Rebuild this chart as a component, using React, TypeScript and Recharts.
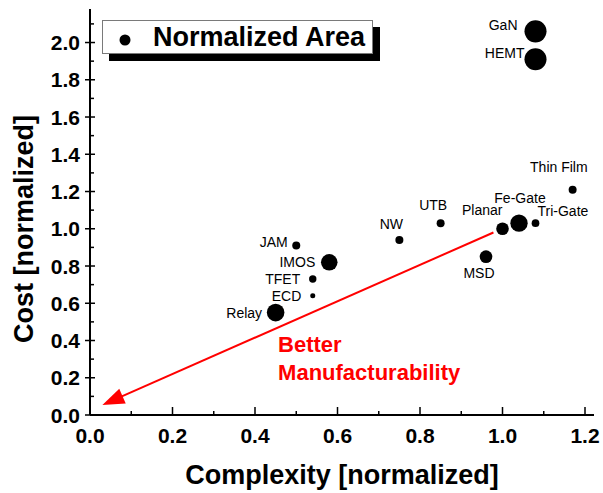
import React from 'react';
import {
  ScatterChart,
  Scatter,
  XAxis,
  YAxis,
  ZAxis,
  ReferenceLine,
  ReferenceDot,
  Legend,
} from 'recharts';

// ---- data ----
const devices = ['GaN', 'HEMT', 'Thin Film', 'Tri-Gate', 'Fe-Gate', 'Planar', 'UTB', 'NW', 'MSD', 'JAM', 'IMOS', 'TFET', 'ECD', 'Relay'];
const complexity = [1.08, 1.08, 1.17, 1.08, 1.04, 1.0, 0.85, 0.75, 0.96, 0.5, 0.58, 0.54, 0.54, 0.45];
const cost = [2.06, 1.91, 1.21, 1.03, 1.03, 1.0, 1.03, 0.94, 0.85, 0.91, 0.82, 0.73, 0.64, 0.55];
const normalizedArea = [7.6, 7.6, 1.0, 0.92, 4.7, 2.5, 1.0, 1.0, 2.5, 1.0, 4.3, 0.86, 0.39, 4.85];

const xTicks = [0, 0.1, 0.2, 0.3, 0.4, 0.5, 0.6, 0.7, 0.8, 0.9, 1.0, 1.1, 1.2];
const yTicks = [0, 0.1, 0.2, 0.3, 0.4, 0.5, 0.6, 0.7, 0.8, 0.9, 1.0, 1.1, 1.2, 1.3, 1.4, 1.5, 1.6, 1.7, 1.8, 1.9, 2.0, 2.1];
const xDomain = [0, 1.2218];
const yDomain = [0, 2.18];

// direction of better manufacturability (from -> to)
const arrowFrom = { x: 0.978, y: 0.98 };
const arrowTo = { x: 0.03, y: 0.054 };
const arrowText = ['Better', 'Manufacturability'];
const arrowTextAt = { x: 0.456, y: 0.34 };

const points = devices.map((name, i) => ({
  name,
  complexity: complexity[i],
  cost: cost[i],
  area: normalizedArea[i],
}));

// ---- styling ----
const FONT = '"Liberation Sans", Arial, Helvetica, sans-serif';
const AXIS_STROKE = { stroke: '#000', strokeWidth: 2 };
const RED = '#ff0000';

// where each device name sits relative to its marker
const labelPlacement: Record<string, { dx: number; dy: number; anchor: 'start' | 'middle' | 'end' }> = {
  GaN: { dx: -18, dy: -1, anchor: 'end' },
  HEMT: { dx: -11, dy: -1, anchor: 'end' },
  'Thin Film': { dx: 15, dy: -17.5, anchor: 'end' },
  'Tri-Gate': { dx: 2, dy: -7.5, anchor: 'start' },
  'Fe-Gate': { dx: 1, dy: -20, anchor: 'middle' },
  Planar: { dx: 0, dy: -13.5, anchor: 'end' },
  UTB: { dx: -7.5, dy: -13.5, anchor: 'middle' },
  NW: { dx: -8, dy: -11, anchor: 'middle' },
  MSD: { dx: -7, dy: 21, anchor: 'middle' },
  JAM: { dx: -8.5, dy: 1, anchor: 'end' },
  IMOS: { dx: -14, dy: 5, anchor: 'end' },
  TFET: { dx: -12.5, dy: 5, anchor: 'end' },
  ECD: { dx: -11.5, dy: 5, anchor: 'end' },
  Relay: { dx: -13.5, dy: 5, anchor: 'end' },
};

const isMajor = (v: number) => Math.round(v * 10) % 2 === 0;

const BottomTick = (props: any) => {
  const { x, y, payload } = props;
  const major = isMajor(payload.value);
  return (
    <g>
      <line x1={x} x2={x} y1={y} y2={y - (major ? 8 : 4)} stroke="#000" strokeWidth={1.5} />
      {major && (
        <text x={x} y={y + 28} textAnchor="middle" fontSize={21} fontWeight="bold" fontFamily={FONT} fill="#000">
          {payload.value.toFixed(1)}
        </text>
      )}
    </g>
  );
};

const TopTick = (props: any) => {
  const { x, y, payload } = props;
  const major = isMajor(payload.value);
  return <line x1={x} x2={x} y1={y} y2={y + (major ? 8 : 4)} stroke="#000" strokeWidth={1.5} />;
};

const LeftTick = (props: any) => {
  const { x, y, payload } = props;
  const major = isMajor(payload.value);
  return (
    <g>
      <line x1={major ? x - 5 : x} x2={x + (major ? 5 : 4)} y1={y} y2={y} stroke="#000" strokeWidth={1.5} />
      {major && (
        <text x={x - 10} y={y + 7.5} textAnchor="end" fontSize={21} fontWeight="bold" fontFamily={FONT} fill="#000">
          {payload.value.toFixed(1)}
        </text>
      )}
    </g>
  );
};

const RightTick = (props: any) => {
  const { x, y, payload } = props;
  const major = isMajor(payload.value);
  return <line x1={x} x2={x - (major ? 7 : 4)} y1={y} y2={y} stroke="#000" strokeWidth={1.5} />;
};

const XTitle = (props: any) => {
  const { viewBox } = props;
  return (
    <text x={viewBox.x + viewBox.width / 2} y={viewBox.y + 68.5} textAnchor="middle" fontSize={27} fontWeight="bold" fontFamily={FONT} fill="#000">
      Complexity [normalized]
    </text>
  );
};

const YTitle = (props: any) => {
  const { viewBox } = props;
  const cx = 33;
  const cy = viewBox.y + viewBox.height / 2 + 17;
  return (
    <text x={0} y={0} transform={`translate(${cx},${cy}) rotate(-90)`} textAnchor="middle" fontSize={27} fontWeight="bold" fontFamily={FONT} fill="#000">
      Cost [normalized]
    </text>
  );
};

const DeviceMarker = (props: any) => {
  const { cx, cy, payload, size, width } = props;
  const r = typeof size === 'number' ? Math.sqrt(size / Math.PI) : width / 2;
  const lp = labelPlacement[payload.name];
  return (
    <g>
      <circle cx={cx} cy={cy} r={r} fill="#000" />
      <text x={cx + lp.dx} y={cy + lp.dy} textAnchor={lp.anchor} fontSize={14} fontFamily={FONT} fill="#000">
        {payload.name}
      </text>
    </g>
  );
};

const Arrow = (props: any) => {
  const { x1, y1, x2, y2 } = props;
  const dx = x2 - x1;
  const dy = y2 - y1;
  const len = Math.hypot(dx, dy);
  const ux = dx / len;
  const uy = dy / len;
  const headLen = 22;
  const halfW = 8;
  const bx = x2 - ux * headLen;
  const by = y2 - uy * headLen;
  const px = -uy;
  const py = ux;
  return (
    <g>
      <line x1={x1} y1={y1} x2={bx + ux * 2} y2={by + uy * 2} stroke={RED} strokeWidth={2} />
      <polygon points={`${x2},${y2} ${bx + px * halfW},${by + py * halfW} ${bx - px * halfW},${by - py * halfW}`} fill={RED} />
    </g>
  );
};

const ArrowCaption = (props: any) => {
  const { cx, cy } = props;
  return (
    <g>
      {arrowText.map((t, i) => (
        <text key={t} x={cx} y={cy + i * 28.3} fontSize={22} fontWeight="bold" fontFamily={FONT} fill={RED}>
          {t}
        </text>
      ))}
    </g>
  );
};

const LegendBox = () => (
  <div
    style={{
      width: 271,
      height: 34,
      boxSizing: 'border-box',
      border: '1px solid #7a7a7a',
      background: '#fff',
      boxShadow: '7px 7px 0 #000',
    }}
  >
    <svg width={269} height={32} style={{ display: 'block' }}>
      <circle cx={22} cy={19} r={5.5} fill="#000" />
      <text x={50} y={25} fontSize={27} fontWeight="bold" fontFamily={FONT} fill="#000">
        Normalized Area
      </text>
    </svg>
  </div>
);

export default function App() {
  return (
    <div style={{ position: 'absolute', left: 0, top: 0, width: 603, height: 493, background: '#fff' }}>
      <ScatterChart width={603} height={493} margin={{ top: 9, right: 9, bottom: 0, left: 0 }}>
        <XAxis
          dataKey="complexity"
          type="number"
          domain={xDomain}
          ticks={xTicks}
          interval={0}
          allowDataOverflow
          height={78}
          tickSize={0}
          tickMargin={0}
          tickLine={false}
          axisLine={AXIS_STROKE}
          tick={<BottomTick />}
          label={<XTitle />}
        />
        <XAxis
          xAxisId="top"
          orientation="top"
          type="number"
          domain={xDomain}
          ticks={xTicks}
          interval={0}
          allowDataOverflow
          height={0}
          tickSize={0}
          tickMargin={0}
          tickLine={false}
          axisLine={AXIS_STROKE}
          tick={<TopTick />}
        />
        <YAxis
          dataKey="cost"
          type="number"
          domain={yDomain}
          ticks={yTicks}
          interval={0}
          allowDataOverflow
          width={90}
          tickSize={0}
          tickMargin={0}
          tickLine={false}
          axisLine={AXIS_STROKE}
          tick={<LeftTick />}
          label={<YTitle />}
        />
        <YAxis
          yAxisId="right"
          orientation="right"
          type="number"
          domain={yDomain}
          ticks={yTicks}
          interval={0}
          allowDataOverflow
          width={0}
          tickSize={0}
          tickMargin={0}
          tickLine={false}
          axisLine={AXIS_STROKE}
          tick={<RightTick />}
        />
        <ZAxis dataKey="area" type="number" domain={[0, 8]} range={[0, 8 * 16 * Math.PI]} />
        <ReferenceLine segment={[arrowFrom, arrowTo]} shape={<Arrow />} ifOverflow="visible" />
        <ReferenceDot x={arrowTextAt.x} y={arrowTextAt.y} r={0} shape={<ArrowCaption />} ifOverflow="visible" />
        <Scatter name="Normalized Area" data={points} shape={<DeviceMarker />} isAnimationActive={false} />
        <Legend
          layout="vertical"
          align="center"
          verticalAlign="middle"
          content={<LegendBox />}
          wrapperStyle={{ left: 102, top: 20, width: 271, height: 34 }}
        />
      </ScatterChart>
    </div>
  );
}
